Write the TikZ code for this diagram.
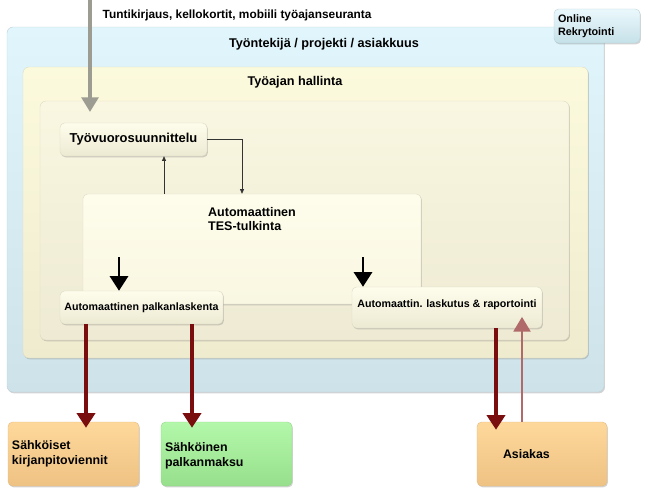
\documentclass[tikz,border=0pt]{standalone}
\usepackage{fontspec}
\setmainfont{Liberation Sans}
\usetikzlibrary{arrows.meta,shadows}

\definecolor{skyTop}{HTML}{E0F6FC}
\definecolor{skyBot}{HTML}{CDE3E9}
\definecolor{sandTop}{HTML}{FCFADD}
\definecolor{sandBot}{HTML}{EFEBCE}
\definecolor{paleTop}{HTML}{F9F7E1}
\definecolor{paleBot}{HTML}{EEEAD3}
\definecolor{modTop}{HTML}{FEFDEC}
\definecolor{modBot}{HTML}{EDEAD3}
\definecolor{peachTop}{HTML}{FED89B}
\definecolor{peachBot}{HTML}{EEC283}
\definecolor{mintTop}{HTML}{B3F8AA}
\definecolor{mintBot}{HTML}{97DF8C}
\definecolor{iceTop}{HTML}{EAF8FC}
\definecolor{iceBot}{HTML}{C6E1E8}
\definecolor{wine}{HTML}{7A0E0E}
\definecolor{rose}{HTML}{B06A6A}
\definecolor{ash}{HTML}{9C9C92}

\tikzstyle{shade box}=[drop shadow={shadow xshift=0.7pt, shadow yshift=-1pt, opacity=0.35}]
\tikzstyle{panel}=[rounded corners=4.5pt, inner sep=0pt, line width=0.3pt, shade box]
\tikzstyle{outer panel}=[panel, top color=skyTop, bottom color=skyBot, draw=skyBot!80!gray]
\tikzstyle{middle panel}=[panel, top color=sandTop, bottom color=sandBot, draw=sandBot!85!gray]
\tikzstyle{inner panel}=[panel, top color=paleTop, bottom color=paleBot, draw=paleBot!85!gray]
\tikzstyle{module}=[rounded corners=3.5pt, inner sep=2pt, line width=0.3pt, top color=modTop, bottom color=modBot, draw=modBot!85!gray, font=\fontsize{8}{9.6}\selectfont\bfseries, shade box]
\tikzstyle{target}=[rounded corners=3.5pt, inner xsep=3pt, align=left, font=\fontsize{9.3}{11}\selectfont\bfseries, shade box]
\tikzstyle{peach target}=[target, top color=peachTop, bottom color=peachBot, draw=peachBot!90!gray, line width=0.3pt]
\tikzstyle{mint target}=[target, top color=mintTop, bottom color=mintBot, draw=mintBot!90!gray, line width=0.3pt]
\tikzstyle{heading}=[font=\fontsize{9.5}{11.4}\selectfont\bfseries]
\tikzstyle{flow}=[-{Triangle[width=13.5pt,length=11pt]}, line width=2.2pt]
\tikzstyle{thin flow}=[-{Triangle[width=3pt,length=3.5pt]}, line width=0.5pt, black!80]

\begin{document}
\begin{tikzpicture}[x=0.75pt, y=-0.75pt]
\useasboundingbox (0,0) rectangle (647,493);

% nested panels
\node[outer panel, minimum width=447.75pt, minimum height=273.75pt] (staff) at (305.5, 209.5) {};
\node[heading] (stafftitle) at (324, 44) {Työntekijä / projekti / asiakkuus};
\node[middle panel, minimum width=423.75pt, minimum height=218.25pt] (worktime) at (305.5, 212.5) {};
\node[heading] (worktimetitle) at (295, 82) {Työajan hallinta};
\node[inner panel, minimum width=396.75pt, minimum height=179.25pt] (core) at (304.5, 220.5) {};

\node[module, font=\fontsize{9.7}{11.4}\selectfont\bfseries, minimum width=110.25pt, minimum height=24.75pt] (shifts) at (133.5, 139.5) {Työvuorosuunnittelu};
\node[module, align=left, font=\fontsize{9.4}{11}\selectfont\bfseries, top color=modTop, bottom color=paleTop, minimum width=253.5pt, minimum height=82.5pt, text depth=45pt] (tes) at (252, 249) {Automaattinen\\TES-tulkinta};
\node[module, minimum width=122.25pt, minimum height=24.75pt] (payroll) at (141.5, 307.5) {Automaattinen palkanlaskenta};
\node[module, minimum width=142.5pt, minimum height=30.75pt, text depth=6.5pt] (billing) at (447, 307.5) {Automaattin. laskutus \& raportointi};

\node[peach target, text width=92.25pt, minimum height=48pt] (ledger) at (73.5, 454) {Sähköiset\\kirjanpitoviennit};
\node[mint target, text width=92.25pt, minimum height=48pt, text depth=10pt] (payout) at (226.5, 454) {Sähköinen\\palkanmaksu};
\node[peach target, text width=91.5pt, minimum height=48pt] (customer) at (542, 454) {\hspace*{16.5pt}Asiakas};

\node[target, font=\fontsize{8.1}{9.6}\selectfont\bfseries, text width=58.5pt, minimum height=25.5pt, top color=iceTop, bottom color=iceBot, draw=iceBot!85!gray, line width=0.3pt] (recruit) at (597, 26) {Online\\Rekrytointi};

% incoming time data
\node[heading, font=\fontsize{8.9}{10.5}\selectfont\bfseries, anchor=west] (sources) at (98, 15) {Tuntikirjaus, kellokortit, mobiili työajanseuranta};
\coordinate (srctop) at (90, 0);
\coordinate (srctip) at (90, 112);
\draw[flow, ash, line width=3pt, -{Triangle[width=12.5pt,length=11pt]}] (srctop) -- (srctip);

% planning loop
\draw[thin flow] (shifts.east) -| ([xshift=-7.5pt]tes.north);
\draw[thin flow] (tes.north -| 164,0) -- (shifts.south -| 164,0);

% into calculation
\coordinate (payin) at (119, 257);
\coordinate (billin) at (363, 257);
\draw[flow] (payin) -- (payroll.north -| payin);
\draw[flow] (billin) -- (billing.north -| billin);

% outputs
\draw[flow, wine, line width=2.8pt] (payroll.south -| 86,0) -- ([yshift=-4.5pt]ledger.north -| 86,0);
\draw[flow, wine, line width=2.8pt] (payroll.south -| 192,0) -- ([yshift=-4.5pt]payout.north -| 192,0);
\draw[flow, wine, line width=2.8pt] (billing.south -| 496,0) -- ([yshift=-6pt]customer.north -| 496,0);
\draw[flow, rose, line width=2.2pt, -{Triangle[width=12.5pt,length=11pt]}] (customer.north -| 522,0) -- ([yshift=8.5pt]billing.south -| 522,0);
\end{tikzpicture}
\end{document}
